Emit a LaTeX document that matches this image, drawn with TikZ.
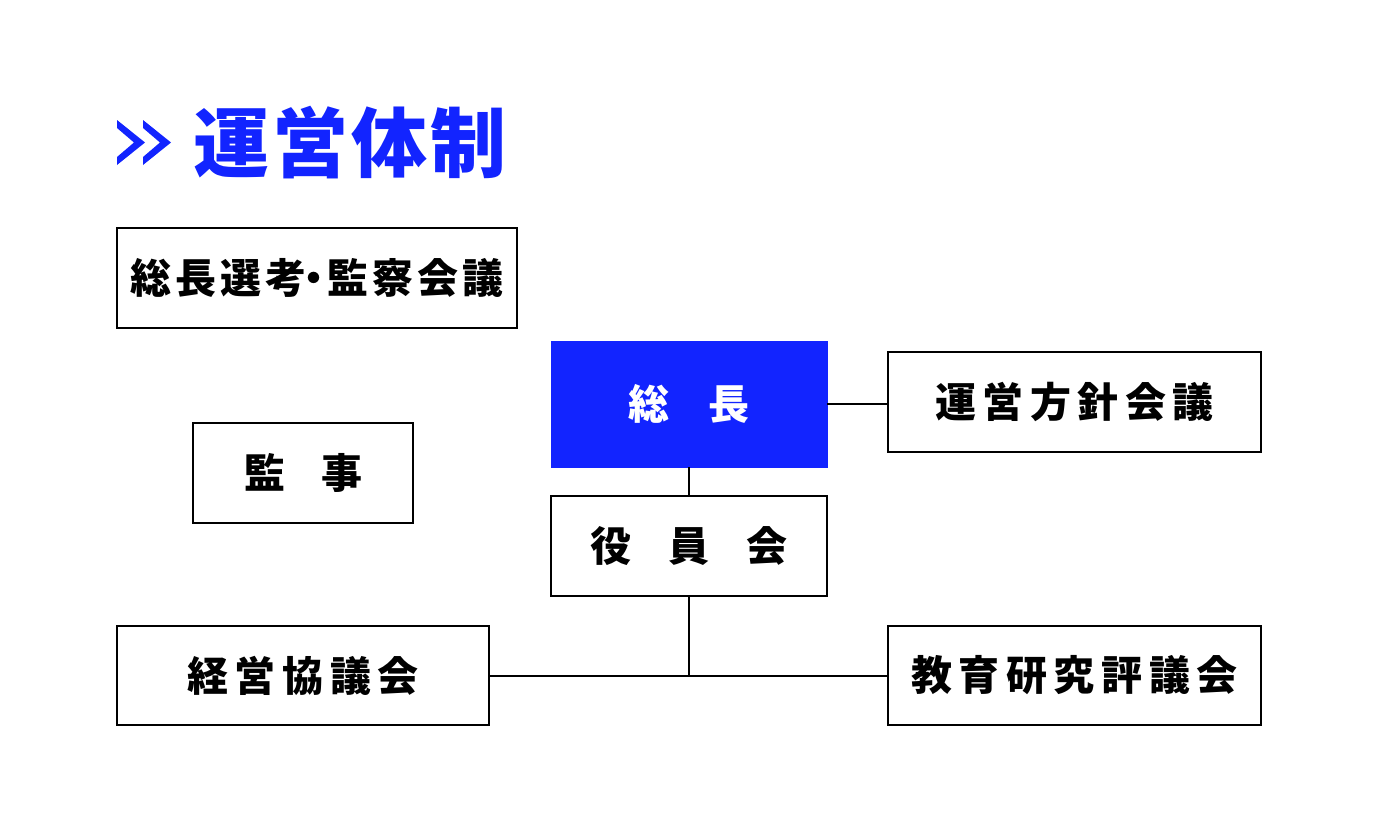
\documentclass[tikz,border=0pt]{standalone}
\usepackage{fontspec}
\newfontfamily\jp{Noto Sans CJK JP}
\definecolor{brand}{RGB}{18,36,255}
\begin{document}
\begin{tikzpicture}[x=1pt,y=-1pt,
  box/.style={draw=black, line width=2.5pt, inner sep=0pt, align=center,
    font=\jp\bfseries\fontsize{41}{41}\selectfont},
  link/.style={draw=black, line width=2pt},
  chev/.style={fill=brand, draw=none}]
\useasboundingbox (0,0) rectangle (1378,827);
% title
\fill[chev] (117,120) -- (145,142.5) -- (117,165) -- (117,157) -- (134,142.5) -- (117,128) -- cycle;
\fill[chev] (143,120) -- (171,142.5) -- (143,165) -- (143,157) -- (160,142.5) -- (143,128) -- cycle;
\node[anchor=west, inner sep=0pt, text=brand,
  font=\jp\bfseries\fontsize{76}{76}\selectfont\addfontfeature{LetterSpace=4}] (title) at (193,143) {運営体制};
% boxes
\node[box, minimum width=400pt, minimum height=100pt] (sel) at (317,278)
  {\addfontfeature{LetterSpace=10}総長選考\kern-13pt・\kern-7pt監察会議};
\node[box, draw=brand, fill=brand, text=white, line width=0pt, minimum width=276pt, minimum height=126pt] (pres) at (689,404)
  {総\hspace{40pt}長};
\node[box, minimum width=373pt, minimum height=100pt] (pol) at (1074.5,402)
  {\addfontfeature{LetterSpace=16}運営方針会議};
\node[box, minimum width=220pt, minimum height=100pt] (aud) at (303,473)
  {監\hspace{36pt}事};
\node[box, minimum width=276pt, minimum height=100pt] (board) at (689,546)
  {役\hspace{37.5pt}員\hspace{37.5pt}会};
\node[box, minimum width=372pt, minimum height=99pt] (mgmt) at (303,675.5)
  {\addfontfeature{LetterSpace=16}経営協議会};
\node[box, minimum width=373pt, minimum height=99pt] (edu) at (1074.5,675.5)
  {\addfontfeature{LetterSpace=16}教育研究評議会};
% connectors
\coordinate (junc) at (board.south |- mgmt.east);
\draw[link] (pres.east) -- (pres.east -| pol.west);
\draw[link] (pres.south) -- (board.north);
\draw[link] (board.south) -- (junc);
\draw[link] (mgmt.east) -- (edu.west);
\end{tikzpicture}
\end{document}
